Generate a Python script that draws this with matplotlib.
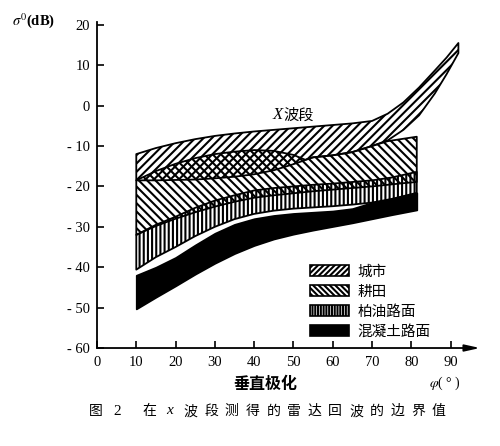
import numpy as np
import matplotlib
matplotlib.use("Agg")
import matplotlib.pyplot as plt
from matplotlib.patches import Patch

plt.rcParams['font.family'] = ['Liberation Serif', 'Noto Sans CJK SC']
plt.rcParams['hatch.linewidth'] = 1.5
plt.rcParams['mathtext.fontset'] = 'stix'

# band boundaries (phi in degrees, sigma0 in dB)
city_phi = [10, 15, 20, 25, 30, 35, 40, 45, 50, 55, 60, 65, 70, 74, 78, 82, 86, 89, 92]
city_hi = [-12.0, -10.5, -9.3, -8.3, -7.5, -6.9, -6.4, -6.0, -5.6, -5.2, -4.8, -4.4,
           -3.8, -2.0, 0.8, 4.5, 8.7, 11.9, 15.5]
city_lo = [-18.5, -18.5, -18.4, -18.3, -18.0, -17.6, -17.0, -16.0, -14.5, -12.8, -12.3,
           -11.5, -10.0, -8.6, -6.0, -2.4, 3.0, 7.8, 13.0]

farm_phi = [10, 15, 20, 25, 30, 35, 40, 45, 50, 53, 55, 60, 65, 70, 74, 78, 81.4]
farm_hi = [-18.5, -16.2, -14.4, -13.0, -12.0, -11.4, -11.0, -11.2, -12.2, -13.4, -12.8,
           -12.3, -11.5, -10.0, -8.8, -8.2, -7.7]
farm_lo = [-32.0, -29.8, -28.0, -26.4, -25.0, -23.8, -22.8, -22.2, -21.7, -21.4, -21.2,
           -20.8, -20.4, -20.0, -19.6, -19.2, -18.9]

asph_phi = [10, 15, 20, 25, 30, 35, 40, 45, 50, 55, 60, 65, 70, 75, 81.4]
asph_hi = [-32.0, -29.5, -27.5, -25.3, -23.5, -22.2, -21.0, -20.4, -20.0, -19.6, -19.3,
           -18.9, -18.5, -17.8, -16.4]
asph_lo = [-40.6, -37.5, -35.0, -32.3, -30.0, -28.1, -26.8, -26.0, -25.5, -25.2, -24.9,
           -24.5, -24.0, -23.1, -21.6]

conc_phi = [10, 15, 20, 25, 30, 35, 40, 45, 50, 55, 60, 65, 70, 75, 81.4]
conc_hi = [-42.0, -40.0, -37.6, -34.5, -31.6, -29.4, -28.0, -27.2, -26.7, -26.4, -26.1,
           -25.5, -24.0, -23.1, -21.6]
conc_lo = [-50.3, -47.4, -44.6, -41.7, -39.0, -36.6, -34.6, -33.0, -31.8, -30.8, -29.9,
           -29.0, -28.0, -27.0, -25.8]

legend_labels = ['城市', '耕田', '柏油路面', '混凝土路面']
xticks = [0, 10, 20, 30, 40, 50, 60, 70, 80, 90]
yticks = [20, 10, 0, -10, -20, -30, -40, -50, -60]
caption_chars = ['在', 'x', '波', '段', '测', '得', '的', '雷', '达', '回', '波', '的', '边', '界', '值']

fig = plt.figure(figsize=(5.0, 4.46), dpi=100)
ax = fig.add_axes([0.194, 0.2197, 0.766, 0.731])

lw = 1.3
ax.fill_between(conc_phi, conc_lo, conc_hi, facecolor='black', edgecolor='black', lw=lw)
ax.fill_between(asph_phi, asph_lo, asph_hi, facecolor='none', edgecolor='black',
                hatch='||||', lw=lw)
ax.fill_between(farm_phi, farm_lo, farm_hi, facecolor='none', edgecolor='black',
                hatch='\\\\\\\\', lw=lw)
ax.fill_between(city_phi, city_lo, city_hi, facecolor='none', edgecolor='black',
                hatch='////', lw=lw)

ax.set_xlim(0, 97.5)
ax.set_ylim(-60, 20.7)
for s in ['top', 'right', 'bottom']:
    ax.spines[s].set_visible(False)
ax.spines['left'].set_linewidth(1.3)
ax.annotate('', xy=(97.5, -60), xytext=(0, -60), annotation_clip=False,
            arrowprops=dict(arrowstyle='-|>,head_length=0.9,head_width=0.2',
                            color='black', lw=1.3, shrinkA=0, shrinkB=0))

ax.set_xticks(xticks)
ax.set_yticks(yticks, labels=['- ' + str(-v) if v < 0 else str(v) for v in yticks])
ax.tick_params(direction='in', length=5, width=1.2, labelsize=10.5)
ax.tick_params(axis='y', pad=5)
ax.tick_params(axis='x', pad=6)

fig.text(0.024, 0.955, r'$\sigma^0$(dB)', fontsize=10.5, ha='left', va='center',
         fontweight='bold')
ax.text(47.2, -2.3, 'X', fontsize=12, style='italic', ha='right', va='center')
ax.text(47.4, -2.3, '波段', fontsize=11, ha='left', va='center',
        family='Noto Sans CJK SC')

fig.text(0.53, 0.139, '垂直极化', fontsize=11.5, fontweight='bold', ha='center',
         va='center', family='Noto Sans CJK SC')
fig.text(0.89, 0.141, r'$\varphi$( ° )', fontsize=10, ha='center', va='center')

# caption, characters spread out like the printed figure
fig.text(0.192, 0.078, '图', fontsize=10, ha='center', va='center',
         family='Noto Sans CJK SC')
fig.text(0.234, 0.078, '2', fontsize=11, ha='center', va='center')
for i, ch in enumerate(caption_chars):
    if ch == 'x':
        fig.text(0.298 + i * 0.0414, 0.080, ch, fontsize=11, style='italic',
                 ha='center', va='center')
    else:
        fig.text(0.298 + i * 0.0414, 0.078, ch, fontsize=10, ha='center',
                 va='center', family='Noto Sans CJK SC')

handles = [Patch(facecolor='white', edgecolor='black', hatch='//////', lw=1.2),
           Patch(facecolor='white', edgecolor='black', hatch='\\\\\\\\\\\\', lw=1.2),
           Patch(facecolor='white', edgecolor='black', hatch='||||||', lw=1.2),
           Patch(facecolor='black', edgecolor='black', lw=1.2)]
ax.legend(handles, legend_labels, loc='upper left', bbox_to_anchor=(0.555, 0.255),
          frameon=False, handlelength=2.7, handleheight=0.75, labelspacing=0.4,
          handletextpad=0.6, borderpad=0, borderaxespad=0,
          prop={'family': 'Noto Sans CJK SC', 'size': 10.5})

fig.savefig('out.png', dpi=100)
